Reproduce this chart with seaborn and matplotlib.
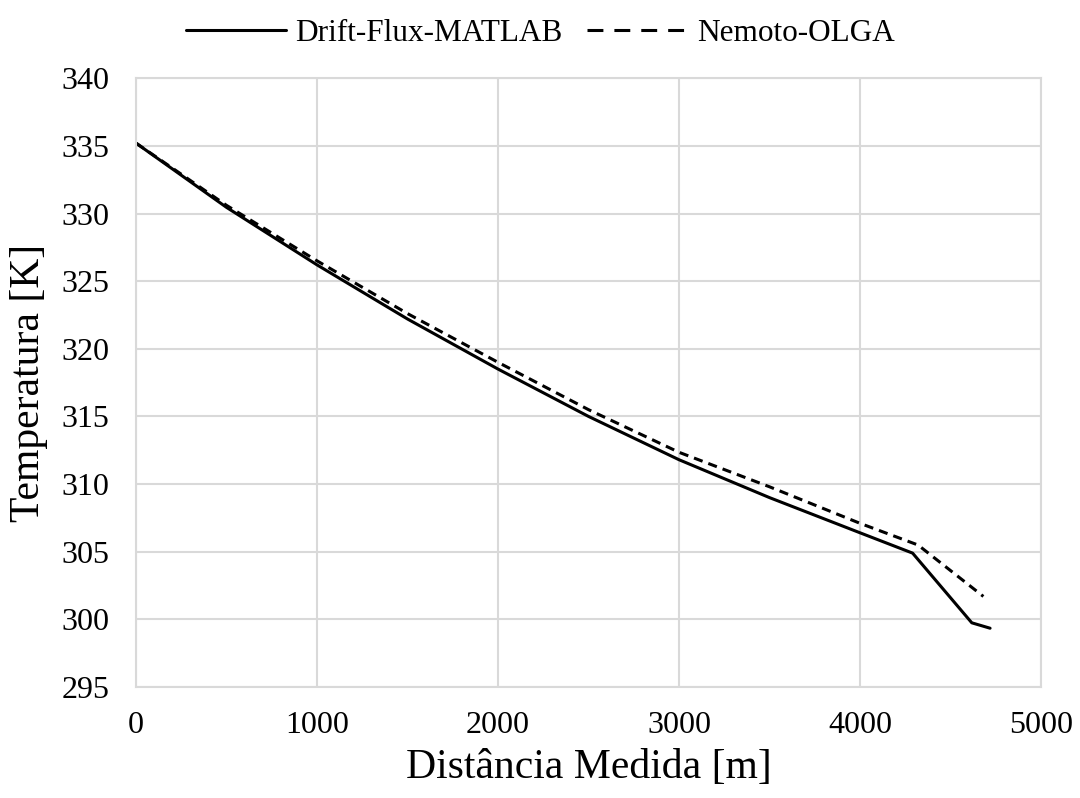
import matplotlib
matplotlib.use("Agg")
import matplotlib.pyplot as plt
import seaborn as sns
import pandas as pd
from matplotlib.lines import Line2D

# Data
drift_x = [0, 500, 1000, 1500, 2000, 2500, 3000, 3500, 4000, 4290, 4617, 4718]
drift_t = [335.2, 330.45, 326.2, 322.2, 318.5, 315.0, 311.8, 309.0, 306.4, 304.9, 299.75, 299.35]
nemoto_x = [0, 500, 1000, 1500, 2000, 2500, 3000, 3500, 4000, 4320, 4681]
nemoto_t = [335.2, 330.6, 326.5, 322.6, 319.0, 315.5, 312.35, 309.8, 307.1, 305.5, 301.7]
series_names = ["Drift-Flux-MATLAB", "Nemoto-OLGA"]
x_ticks = [0, 1000, 2000, 3000, 4000, 5000]
y_ticks = [295, 300, 305, 310, 315, 320, 325, 330, 335, 340]

df = pd.concat([
    pd.DataFrame({"x": drift_x, "t": drift_t, "s": series_names[0]}),
    pd.DataFrame({"x": nemoto_x, "t": nemoto_t, "s": series_names[1]}),
])

sns.set_theme(style="white")
plt.rcParams['font.family'] = ['Liberation Serif', 'DejaVu Serif']
plt.rcParams['text.color'] = 'black'

LW = 2.2
DASH = [3.0, 2.0]

fig = plt.figure(figsize=(10.8, 7.98), dpi=100)
ax = fig.add_axes([0.126, 0.139, 0.838, 0.763])

sns.lineplot(data=df, x="x", y="t", hue="s", style="s",
             palette=["black", "black"], dashes=[(None, None), (3, 2)],
             linewidth=LW, sort=False, estimator=None, ax=ax, legend=False)
ax.lines[0].set_linestyle('-')
ax.lines[1].set_dashes(DASH)

ax.set_xlim(0, 5000)
ax.set_ylim(295, 340)
ax.set_xticks(x_ticks)
ax.set_yticks(y_ticks)
ax.grid(True, color="#d9d9d9", linewidth=1.5)
ax.set_axisbelow(True)
for sp in ax.spines.values():
    sp.set_color("#d9d9d9")
    sp.set_linewidth(1.5)
ax.tick_params(axis="both", length=0, labelsize=23, labelcolor="black")
ax.tick_params(axis="x", pad=17)
ax.tick_params(axis="y", pad=19)
ax.set_xlabel("Distância Medida [m]", fontsize=30, labelpad=6, color="black")
ax.set_ylabel("Temperatura [K]", fontsize=30, labelpad=10, color="black")

handles = [Line2D([], [], color="black", lw=LW, ls="-"),
           Line2D([], [], color="black", lw=LW, dashes=[5.2, 3.6])]
fig.legend(handles, series_names, loc="upper center", bbox_to_anchor=(0.5, 1.012),
           ncol=2, frameon=False, fontsize=22.5, handlelength=3.2,
           columnspacing=0.8, handletextpad=0.3)

fig.savefig("out.png", dpi=100)
